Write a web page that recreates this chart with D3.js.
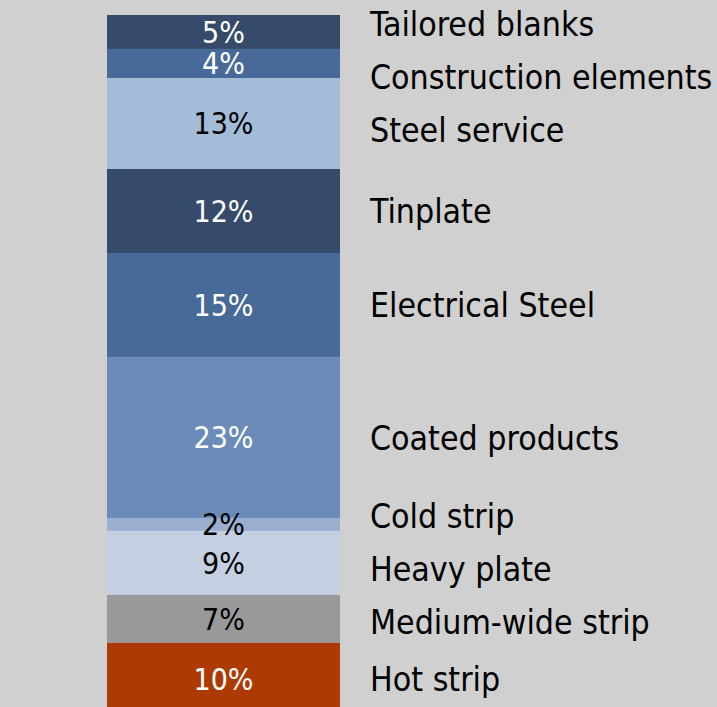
<!DOCTYPE html>
<html>
<head>
<meta charset="utf-8">
<script src="https://cdn.jsdelivr.net/npm/d3@7"></script>
<style>
  html, body { margin: 0; padding: 0; background: #d0d0d0; }
  svg { display: block; }
  text { font-family: "DejaVu Sans Condensed", "DejaVu Sans", sans-serif; font-stretch: condensed; }
</style>
</head>
<body>
<svg id="chart" width="717" height="707"></svg>
<script>
// segments, top to bottom
var categories = ["Tailored blanks", "Construction elements", "Steel service", "Tinplate",
                  "Electrical Steel", "Coated products", "Cold strip", "Heavy plate",
                  "Medium-wide strip", "Hot strip"];
var shares = [4.85, 4.15, 13.0, 12.0, 14.85, 23.0, 1.85, 9.15, 6.85, 10.3];
var shareLabels = ["5%", "4%", "13%", "12%", "15%", "23%", "2%", "9%", "7%", "10%"];
var colors = ["#364a6a", "#486a99", "#a3bdd9", "#364a6a", "#486a99",
              "#6b8cba", "#9aafd0", "#c4cfe2", "#999999", "#ad3a03"];
var darkText = [false, false, true, false, false, false, true, true, true, false];

var margin = {"left": 107, "top": 15};
var barWidth = 233;
var barHeight = 700;   // bar runs a little past the bottom of the window

var svg = d3.select("#chart");

// stack the shares
var acc = 0;
var segs = shares.map(function(v, i) {
  var s = {name: categories[i], y0: acc, y1: acc + v, label: shareLabels[i],
           color: colors[i], dark: darkText[i]};
  acc += v;
  return s;
});

var y = d3.scaleLinear()
          .domain([0, d3.sum(shares)])
          .range([margin.top, margin.top + barHeight]);

var g = svg.append("g");

g.selectAll("rect")
 .data(segs)
 .enter().append("rect")
 .attr("x", margin.left)
 .attr("width", barWidth)
 .attr("y", function(d) { return y(d.y0); })
 .attr("height", function(d) { return y(d.y1) - y(d.y0); })
 .attr("fill", function(d) { return d.color; });

g.selectAll(".pct")
 .data(segs)
 .enter().append("text")
 .attr("class", "pct")
 .attr("x", margin.left + barWidth / 2)
 .attr("y", function(d) { return (y(d.y0) + y(d.y1)) / 2; })
 .attr("dy", "0.36em")
 .attr("text-anchor", "middle")
 .style("font-size", "30px")
 .attr("fill", function(d) { return d.dark ? "#000" : "#fff"; })
 .text(function(d) { return d.label; });

// category labels: start at segment centres, then push apart so they don't overlap
var minGap = 53;
var minY = margin.top + 9;
var pos = segs.map(function(d) { return (y(d.y0) + y(d.y1)) / 2; });
var clusters = pos.map(function(p, i) { return {start: i, n: 1, sum: p}; });
var changed = true;
while (changed)
{
  changed = false;
  for (var i = 0; i < clusters.length - 1; i++)
  {
    var a = clusters[i], b = clusters[i + 1];
    var aTop = a.sum / a.n - (a.n - 1) * minGap / 2;
    var bTop = b.sum / b.n - (b.n - 1) * minGap / 2;
    if (bTop - (aTop + (a.n - 1) * minGap) < minGap)
    {
      a.sum += b.sum; a.n += b.n;
      clusters.splice(i + 1, 1);
      changed = true;
      break;
    }
  }
}
var labelY = [];
clusters.forEach(function(c) {
  var top = Math.max(minY, c.sum / c.n - (c.n - 1) * minGap / 2);
  for (var k = 0; k < c.n; k++) labelY[c.start + k] = top + k * minGap;
});

g.selectAll(".cat")
 .data(segs)
 .enter().append("text")
 .attr("class", "cat")
 .attr("x", 370)
 .attr("y", function(d, i) { return labelY[i]; })
 .attr("dy", "0.36em")
 .style("font-size", "33.6px")
 .attr("fill", "#000")
 .text(function(d) { return d.name; });
</script>
</body>
</html>
